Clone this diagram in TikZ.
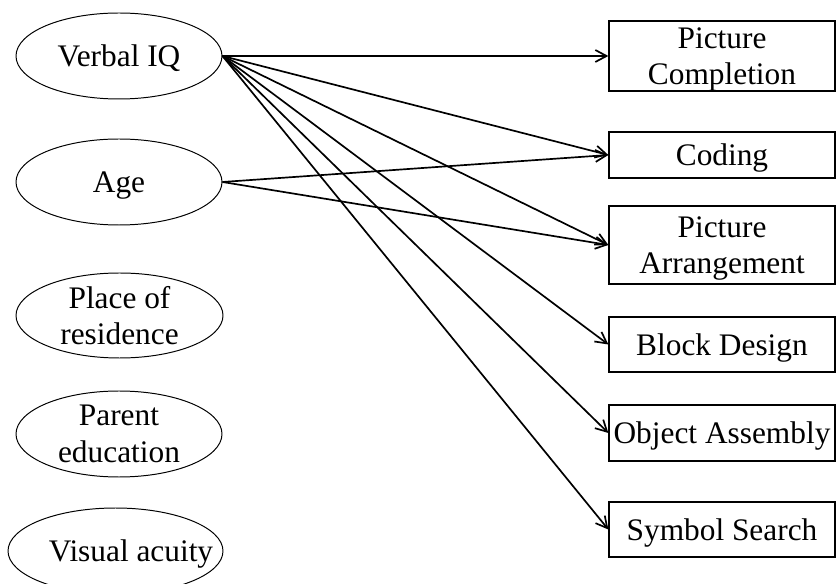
\documentclass[tikz,border=0pt]{standalone}
\usepackage{fontspec}
\setmainfont{Liberation Serif}
\usepackage{tikz}
\usetikzlibrary{arrows.meta, shapes.geometric}
\tikzset{
  varE/.style={ellipse, draw, minimum width=5.15cm, minimum height=2.15cm,
               inner xsep=0pt, inner ysep=-10pt, align=center, text depth=0pt,
               line width=0.7pt},
  bxS/.style={rectangle, draw, minimum width=5.65cm, minimum height=#1,
              inner sep=0pt, align=center, text depth=0pt, line width=0.9pt},
  arr/.style={-{Straight Barb[length=8pt, width=8.5pt]}, line width=1.2pt},
}

\begin{document}
\begin{tikzpicture}[font=\fontsize{22.3}{26}\selectfont]
  \useasboundingbox (0,0) rectangle (20.9,14.575);

  % predictors
  \node[varE] (viq) at (2.975,13.175) {Verbal IQ};
  \node[varE] (age) at (2.975,10.025) {Age};
  \node[varE, minimum width=5.175cm, minimum height=2.125cm] (res) at (2.9875,6.6875) {Place of\\residence};
  \node[varE] (pedu) at (2.975,3.725) {Parent\\education};
  \node[varE, minimum width=5.375cm, inner xsep=-16pt] (vis) at (2.8875,0.8) {\hspace*{22pt}Visual acuity};

  % subtests
  \node[bxS=1.75cm] (pc) at (18.05,13.175) {Picture\\Completion};
  \node[bxS=1.15cm] (cod) at (18.05,10.7) {Coding};
  \node[bxS=1.95cm] (pa) at (18.05,8.45) {Picture\\Arrangement};
  \node[bxS=1.375cm] (bd) at (18.05,5.9625) {Block Design};
  \node[bxS=1.4cm] (oa) at (18.05,3.75) {Object Assembly};
  \node[bxS=1.375cm] (ss) at (18.05,1.3375) {Symbol Search};

  % paths from verbal IQ
  \draw[arr] (viq.east) -- (pc.west);
  \draw[arr] (viq.east) -- (cod.west);
  \draw[arr] (viq.east) -- (pa.west);
  \draw[arr] (viq.east) -- (bd.west);
  \draw[arr] (viq.east) -- (oa.west);
  \draw[arr] (viq.east) -- (ss.west);

  % paths from age
  \draw[arr] (age.east) -- (cod.west);
  \draw[arr] (age.east) -- (pa.west);
\end{tikzpicture}
\end{document}
